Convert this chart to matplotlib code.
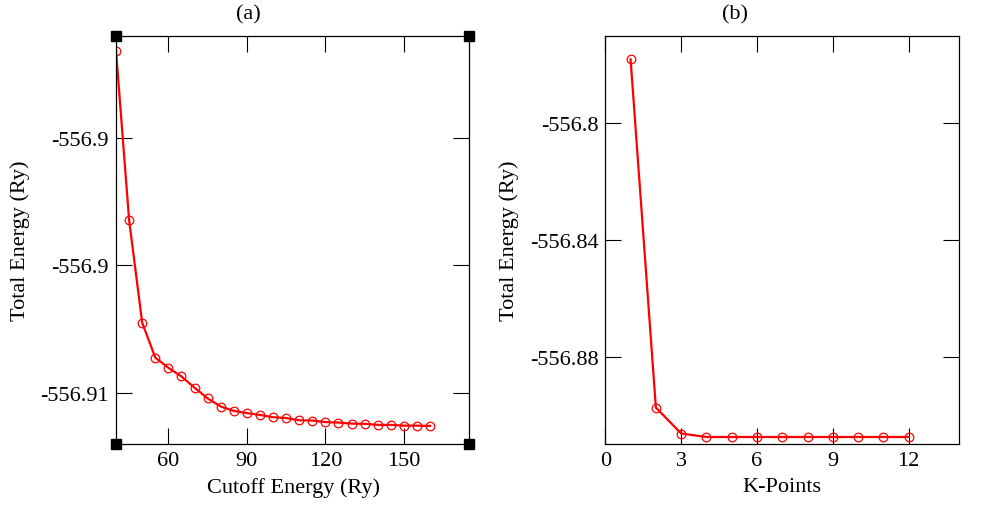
import matplotlib
matplotlib.use("Agg")
import matplotlib.pyplot as plt
from matplotlib.ticker import FixedLocator, FixedFormatter

# ---- data ----
cutoff = [40, 45, 50, 55, 60, 65, 70, 75, 80, 85, 90, 95, 100, 105, 110, 115,
          120, 125, 130, 135, 140, 145, 150, 155, 160]
energy_cutoff = [-556.89657, -556.90321, -556.90724, -556.90861, -556.90901,
                 -556.90935, -556.90979, -556.91021, -556.91053, -556.91070,
                 -556.91079, -556.91086, -556.91095, -556.91098, -556.91107,
                 -556.91108, -556.91114, -556.91116, -556.91120, -556.91121,
                 -556.91125, -556.91125, -556.91128, -556.91128, -556.91129]

kpoints = [1, 2, 3, 4, 5, 6, 7, 8, 9, 10, 11, 12]
energy_k = [-556.7780, -556.8975, -556.9064, -556.9076, -556.9076, -556.9076,
            -556.9076, -556.9076, -556.9076, -556.9076, -556.9076, -556.9076]

a_xticks = [60, 90, 120, 150]
a_yticks = [-556.900, -556.905, -556.910]
a_yticklabels = ["-556.9", "-556.9", "-556.91"]
b_xticks = [0, 3, 6, 9, 12]
b_yticks = [-556.80, -556.84, -556.88]
b_yticklabels = ["-556.8", "-556.84", "-556.88"]

plt.rcParams['font.family'] = ['Liberation Serif', 'DejaVu Serif']
FS = 16

fig = plt.figure(figsize=(9.82, 5.10), dpi=100)
ax1 = fig.add_axes([116/982, 1-445/510, 353.3/982, 408/510])
ax2 = fig.add_axes([605.3/982, 1-445/510, 354/982, 408/510])

line_kw = dict(color='red', lw=1.6, marker='o', markersize=6.2,
               markerfacecolor='none', markeredgecolor='red', markeredgewidth=0.9)

ax1.plot(cutoff, energy_cutoff, **line_kw)
ax2.plot(kpoints, energy_k, **line_kw)

ax1.set_xlim(40, 175)
ax1.set_ylim(-556.912, -556.896)
ax2.set_xlim(0, 14)
ax2.set_ylim(-556.91, -556.77)

ax1.xaxis.set_major_locator(FixedLocator(a_xticks))
ax1.yaxis.set_major_locator(FixedLocator(a_yticks))
ax1.yaxis.set_major_formatter(FixedFormatter(a_yticklabels))
ax2.xaxis.set_major_locator(FixedLocator(b_xticks))
ax2.yaxis.set_major_locator(FixedLocator(b_yticks))
ax2.yaxis.set_major_formatter(FixedFormatter(b_yticklabels))

for ax in (ax1, ax2):
    ax.tick_params(direction='in', length=11.5, width=0.8, top=True, right=True,
                   labelsize=FS, pad=5, color='black')
    ax.minorticks_off()
    for s in ax.spines.values():
        s.set_linewidth(0.9)
    ax.set_ylabel("Total Energy (Ry)", fontsize=FS)
    ax.yaxis.set_label_coords(-0.243, 0.5)

ax1.set_xlabel("Cutoff Energy (Ry)", fontsize=FS)
ax2.set_xlabel("K-Points", fontsize=FS)
ax1.xaxis.set_label_coords(0.502, -0.081)
ax2.xaxis.set_label_coords(0.5, -0.081)

fig.text(248/982, 1-15/510, "(a)", fontsize=FS, ha='center', va='center')
fig.text(735/982, 1-15/510, "(b)", fontsize=FS, ha='center', va='center')

# selection handles at corners of graph (a)
ax1.plot([0, 1, 0, 1], [0, 0, 1, 1], ls='none', marker='s', markersize=7.2,
         color='black', transform=ax1.transAxes, clip_on=False)

fig.savefig("out.png", dpi=100)
